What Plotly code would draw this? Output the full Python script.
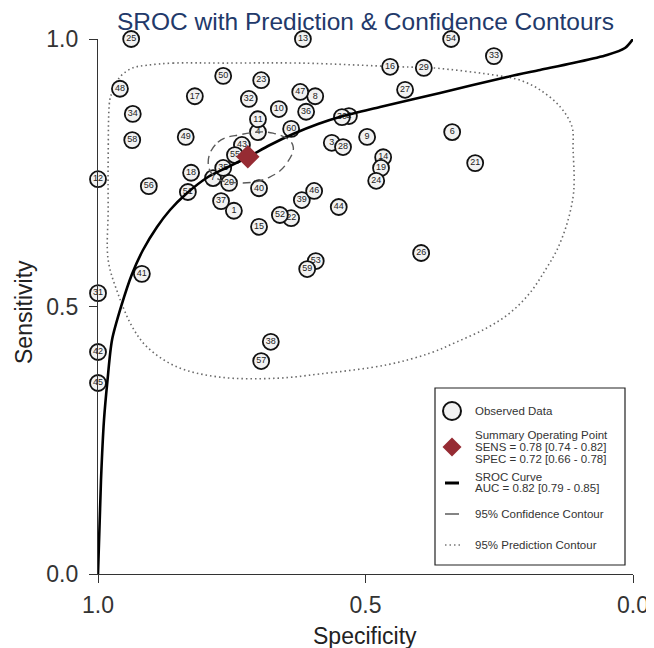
import plotly.graph_objects as go

# ---------------- data ----------------
study_labels = [str(i) for i in range(1, 61)]
study_spec = [0.746, 0.531, 0.563, 0.701, 0.785, 0.338, 0.785, 0.594, 0.497, 0.662,
              0.701, 1.000, 0.617, 0.467, 0.699, 0.454, 0.819, 0.826, 0.471, 0.755,
              0.295, 0.639, 0.695, 0.480, 0.938, 0.396, 0.426, 0.542, 0.391, 0.544,
              1.000, 0.718, 0.260, 0.935, 0.766, 0.611, 0.770, 0.677, 0.619, 0.699,
              0.918, 1.000, 0.731, 0.550, 1.000, 0.596, 0.622, 0.959, 0.836, 0.766,
              0.832, 0.660, 0.593, 0.340, 0.744, 0.905, 0.695, 0.936, 0.609, 0.639]
study_sens = [0.679, 0.856, 0.806, 0.826, 0.740, 0.826, 0.740, 0.893, 0.817, 0.869,
              0.850, 0.738, 1.000, 0.779, 0.649, 0.948, 0.893, 0.750, 0.759, 0.731,
              0.768, 0.665, 0.923, 0.735, 1.000, 0.600, 0.905, 0.798, 0.946, 0.854,
              0.525, 0.888, 0.968, 0.860, 0.759, 0.864, 0.697, 0.434, 0.699, 0.721,
              0.561, 0.415, 0.802, 0.686, 0.357, 0.716, 0.901, 0.907, 0.817, 0.931,
              0.714, 0.671, 0.585, 1.000, 0.783, 0.725, 0.398, 0.811, 0.570, 0.832]
# study 5 sits exactly under study 7 in the reference and is not visible
drawn = [i for i in range(60) if study_labels[i] != "5"]

summary_spec = [0.72]
summary_sens = [0.78]

sroc_spec = [1.0, 0.9944, 0.9888, 0.9822, 0.9738, 0.9570, 0.9364, 0.9159, 0.8897, 0.8654,
             0.8355, 0.7944, 0.7570, 0.7196, 0.6785, 0.6355, 0.5888, 0.5421, 0.4729, 0.3607,
             0.2355, 0.1738, 0.1121, 0.0486, 0.0150, 0.0]
sroc_sens = [0.0, 0.1757, 0.2879, 0.3626, 0.4374, 0.4991, 0.5607, 0.6056, 0.6486, 0.6804,
             0.7103, 0.7421, 0.7607, 0.7794, 0.8019, 0.8224, 0.8411, 0.8561, 0.8729, 0.8991,
             0.9290, 0.9421, 0.9551, 0.9701, 0.9832, 1.0]

conf_spec = [0.794, 0.776, 0.735, 0.673, 0.636, 0.647, 0.679, 0.735, 0.781, 0.794]
conf_sens = [0.770, 0.807, 0.821, 0.824, 0.802, 0.768, 0.742, 0.731, 0.742, 0.770]

pred_spec = [0.908, 0.860, 0.766, 0.622, 0.436, 0.374, 0.249, 0.211, 0.174, 0.136,
             0.114, 0.112, 0.110, 0.112, 0.123, 0.142, 0.164, 0.193, 0.230, 0.273,
             0.329, 0.379, 0.460, 0.585, 0.665, 0.772, 0.852, 0.908, 0.936, 0.963,
             0.981, 0.981, 0.981, 0.978, 0.974, 0.959, 0.935, 0.908]
pred_sens = [0.951, 0.955, 0.955, 0.955, 0.948, 0.946, 0.931, 0.923, 0.905, 0.873,
             0.836, 0.793, 0.736, 0.705, 0.656, 0.606, 0.568, 0.525, 0.488, 0.460,
             0.434, 0.413, 0.391, 0.374, 0.366, 0.368, 0.387, 0.424, 0.462, 0.525,
             0.587, 0.680, 0.774, 0.886, 0.899, 0.929, 0.946, 0.951]

tick_vals = [0.0, 0.5, 1.0]
tick_text = ["0.0", "0.5", "1.0"]

legend_lines = [
    ("Observed Data", 411),
    ("Summary Operating Point", 435),
    ("SENS = 0.78 [0.74 - 0.82]", 447),
    ("SPEC = 0.72 [0.66 - 0.78]", 459),
    ("SROC Curve", 477),
    ("AUC = 0.82 [0.79 - 0.85]", 488),
    ("95% Confidence Contour", 514),
    ("95% Prediction Contour", 545),
]

# ---------------- layout helpers (screen pixel -> paper) ----------------
OFF = 8                      # default page body margin
W, H = 654 - OFF, 648 - OFF
L, R, T, B = 98 - OFF, 21, 39 - OFF, 74
PW, PH = W - L - R, H - T - B


def px(x):
    return (x - OFF - L) / PW


def py(y):
    return (H - B - (y - OFF)) / PH


FONT = "Liberation Sans, Arial, sans-serif"

fig = go.Figure()

# prediction contour
fig.add_trace(go.Scatter(x=pred_spec, y=pred_sens, mode="lines",
                         line=dict(color="#6a6a6a", width=1.6, dash="1.5px,3px", shape="spline", smoothing=1.0),
                         hoverinfo="skip", showlegend=False))

# observed studies
fig.add_trace(go.Scatter(
    x=[study_spec[i] for i in drawn], y=[study_sens[i] for i in drawn],
    text=[study_labels[i] for i in drawn],
    mode="markers+text", textposition="middle center",
    textfont=dict(family=FONT, size=9, color="#222222"),
    marker=dict(symbol="circle", size=16, color="#f2f2f2", line=dict(color="#111111", width=1.8)),
    cliponaxis=False, showlegend=False))

# SROC curve
fig.add_trace(go.Scatter(x=sroc_spec, y=sroc_sens, mode="lines",
                         line=dict(color="#000000", width=2.6, shape="spline", smoothing=0.8),
                         hoverinfo="skip", showlegend=False))

# confidence contour
fig.add_trace(go.Scatter(x=conf_spec, y=conf_sens, mode="lines",
                         line=dict(color="#5a5a5a", width=1.4, dash="8px,5px", shape="spline", smoothing=1.2),
                         hoverinfo="skip", showlegend=False))

# summary operating point
fig.add_trace(go.Scatter(x=summary_spec, y=summary_sens, mode="markers",
                         marker=dict(symbol="diamond", size=18, color="#962b33", line=dict(width=0)),
                         cliponaxis=False, showlegend=False))

axis_common = dict(showgrid=False, zeroline=False, showline=True, linecolor="#333333", linewidth=1.4,
                   ticks="outside", ticklen=8, tickwidth=1.4, tickcolor="#333333",
                   tickvals=tick_vals, ticktext=tick_text, automargin=False,
                   tickfont=dict(family=FONT, size=23, color="#333333"))

shapes = [
    dict(type="rect", xref="paper", yref="paper", x0=px(435), x1=px(625), y0=py(565), y1=py(388),
         line=dict(color="#222222", width=1.2), fillcolor="white", layer="above"),
    dict(type="circle", xref="paper", yref="paper", x0=px(443), x1=px(461), y0=py(420), y1=py(402),
         line=dict(color="#111111", width=2), fillcolor="#f2f2f2", layer="above"),
    dict(type="path", xref="paper", yref="paper",
         path=f"M {px(452)},{py(437.5)} L {px(461.5)},{py(447)} L {px(452)},{py(456.5)} L {px(442.5)},{py(447)} Z",
         line=dict(width=0), fillcolor="#962b33", layer="above"),
    dict(type="line", xref="paper", yref="paper", x0=px(445), x1=px(459), y0=py(483), y1=py(483),
         line=dict(color="#000000", width=3), layer="above"),
    dict(type="line", xref="paper", yref="paper", x0=px(445), x1=px(459), y0=py(514), y1=py(514),
         line=dict(color="#333333", width=1.2), layer="above"),
    dict(type="line", xref="paper", yref="paper", x0=px(445), x1=px(461), y0=py(545), y1=py(545),
         line=dict(color="#777777", width=1.3, dash="1.5px,3px"), layer="above"),
]

annotations = [
    dict(text=t, x=px(473), y=py(yy), xref="paper", yref="paper", xanchor="left", yanchor="middle",
         showarrow=False, font=dict(family=FONT, size=11.5, color="#333333"))
    for t, yy in legend_lines
]
annotations += [
    dict(text="Specificity", x=px(365), y=py(636), xref="paper", yref="paper", xanchor="center",
         yanchor="middle", showarrow=False, font=dict(family=FONT, size=23, color="#222222")),
    dict(text="Sensitivity", x=px(24), y=py(312), xref="paper", yref="paper", xanchor="center",
         yanchor="middle", textangle=-90, showarrow=False, font=dict(family=FONT, size=23, color="#222222")),
]

fig.update_layout(
    width=W, height=H,
    margin=dict(l=L, r=R, t=T, b=B, pad=0, autoexpand=False),
    paper_bgcolor="white", plot_bgcolor="white",
    title=dict(text="SROC with Prediction & Confidence Contours", xref="paper", x=0.5, xanchor="center",
               yref="container", y=1 - (21.5 - OFF) / H, yanchor="middle",
               font=dict(family=FONT, size=24.5, color="#22396a")),
    xaxis=dict(range=[1, 0], ticklabelstandoff=2, **axis_common),
    yaxis=dict(range=[0, 1], ticklabelstandoff=6, **axis_common),
    shapes=shapes, annotations=annotations,
)

fig.write_html("out.html")
